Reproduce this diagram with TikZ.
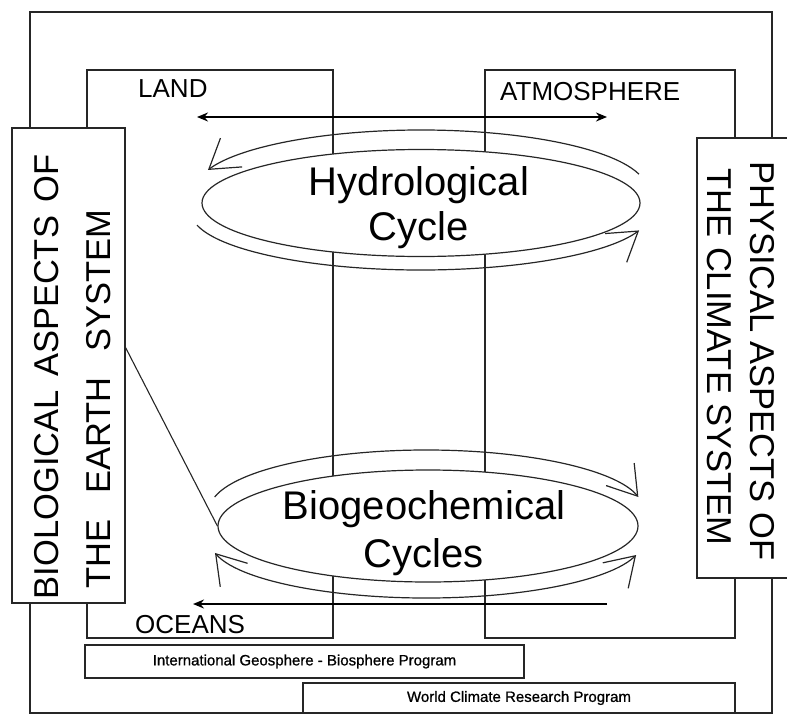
\documentclass[tikz,border=0pt]{standalone}
\usepackage{fontspec}
\setmainfont{Liberation Sans}
\newfontfamily\progfont{Liberation Sans}[FakeBold=0.8]
\usetikzlibrary{arrows.meta,shapes.geometric,calc}
\begin{document}
\begin{tikzpicture}[x=1pt,y=-1pt,
  thinline/.style={line width=1.1pt, draw=black!85},
  boxframe/.style={rectangle, draw=black!85, line width=1.1pt, fill=white, inner sep=0pt},
  ellframe/.style={ellipse, draw=black!85, line width=1.2pt, fill=white, inner sep=0pt},
  cyc/.style={line width=1.2pt, draw=black!85},
  barb/.tip={Straight Barb[length=28pt,width=36pt,line width=1.2pt]},
  boldarrow/.style={line width=2.6pt},
  headtip/.tip={Stealth[length=11pt,width=9pt]},
  lab/.style={inner sep=0pt, font=\fontsize{26}{30}\selectfont},
  big/.style={inner sep=0pt, font=\fontsize{40}{46}\selectfont},
  vt/.style={inner sep=0pt, font=\fontsize{34.5}{40}\selectfont},
  prog/.style={inner sep=0pt, font=\progfont\fontsize{15}{18}\selectfont}
]
\useasboundingbox (0,0) rectangle (787,715);
\clip (0,0) rectangle (787,715);

% frames
\draw[thinline] (30,12) rectangle (772,713);
\draw[thinline] (87,70) rectangle (333,638);
\draw[thinline] (485,70) rectangle (735,638);

% straight arrows
\coordinate (ta1) at (197,117);
\coordinate (ta2) at (607,117);
\draw[boldarrow, headtip-headtip] (ta1) -- (ta2);

% hydrological cycle
\coordinate (hT) at (421,190);
\coordinate (hB) at (421,212);
\draw[cyc, -barb] ([shift={(15.3:226pt and 60pt)}]hT) arc[start angle=15.3, end angle=160.5, x radius=226pt, y radius=60pt];
\draw[cyc, -barb] ([shift={(193.1:230pt and 58pt)}]hB) arc[start angle=193.1, end angle=341.5, x radius=230pt, y radius=58pt];
\node[ellframe, minimum width=438pt, minimum height=107pt] (hydro) at (421,203) {};
\node[big, anchor=base] (hydroA) at (419,195) {Hydrological};
\node[big, anchor=base] (hydroB) at (419,240) {Cycle};

% biogeochemical cycles
\coordinate (bT) at (426.5,510);
\coordinate (bB) at (426.5,540);
\draw[cyc, -barb] ([shift={(167.5:217pt and 60pt)}]bT) arc[start angle=167.5, end angle=12.5, x radius=217pt, y radius=60pt];
\draw[cyc, barb-barb] ([shift={(192.9:217pt and 58pt)}]bB) arc[start angle=192.9, end angle=345, x radius=217pt, y radius=58pt];
\node[ellframe, minimum width=420pt, minimum height=112pt] (bio) at (428,526) {};
\node[big, anchor=base] (bioA) at (424,519) {Biogeochemical};
\node[big, anchor=base] (bioB) at (424,567) {Cycles};

% bottom arrow
\coordinate (ba1) at (607,604);
\coordinate (ba2) at (193,604);
\draw[boldarrow, -headtip] (ba1) -- (ba2);

% side boxes
\node[boxframe, minimum width=113pt, minimum height=475pt] (biobox) at (68.5,365.5) {};
\node[boxframe, minimum width=93pt, minimum height=440pt] (phybox) at (743.5,358) {};
\node[vt, rotate=90] (bioT1) at (47,377) {BIOLOGICAL\hspace{0.38em}ASPECTS\hspace{0.38em}OF};
\node[vt, rotate=90] (bioT2) at (99,399) {THE\hspace{0.75em}EARTH\hspace{0.75em}SYSTEM};
\node[vt, rotate=-90] (phyT1) at (762,361) {PHYSICAL ASPECTS OF};
\node[vt, rotate=-90] (phyT2) at (719,357) {THE CLIMATE SYSTEM};

% connector
\draw[thinline] ([yshift=18pt]biobox.east) -- (bio.west);

% program boxes
\node[boxframe, minimum width=439pt, minimum height=33pt] (igbp) at (304.5,661.5) {};
\node[prog] (igbpT) at (igbp.center) {International Geosphere - Biosphere Program};
\node[boxframe, minimum width=432pt, minimum height=30pt] (wcrp) at (519,698) {};
\node[prog] (wcrpT) at (wcrp.center) {World Climate Research Program};

% labels
\node[lab, anchor=base west] (land) at (138,97) {LAND};
\node[lab, anchor=base west] (atmo) at (500,100) {ATMOSPHERE};
\node[lab, anchor=base west] (ocean) at (135,633) {OCEANS};
\end{tikzpicture}
\end{document}
